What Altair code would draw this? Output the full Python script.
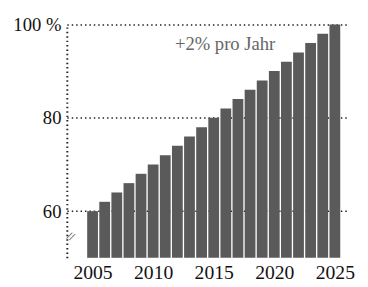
import altair as alt
import pandas as pd

years = [2005, 2006, 2007, 2008, 2009, 2010, 2011, 2012, 2013, 2014, 2015,
         2016, 2017, 2018, 2019, 2020, 2021, 2022, 2023, 2024, 2025]
values = [60, 62, 64, 66, 68, 70, 72, 74, 76, 78, 80,
          82, 84, 86, 88, 90, 92, 94, 96, 98, 100]
x_ticks = [2005, 2010, 2015, 2020, 2025]
y_ticks = [60, 80, 100]
annotation = "+2% pro Jahr"

df = pd.DataFrame({"year": years, "value": values})
FONT = "Liberation Serif"

x_scale = alt.Scale(domain=[2003.28, 2025.7], nice=False, zero=False)
y_scale = alt.Scale(domain=[50, 100], nice=False, zero=False)

bars = alt.Chart(df).mark_bar(size=11, color="#5a5a5a").encode(
    x=alt.X("year:Q", scale=x_scale,
            axis=alt.Axis(values=x_ticks, format="d", title=None, domain=False,
                          ticks=False, grid=False, labelFont=FONT, labelFontSize=20,
                          labelColor="#111", labelPadding=5, labelOverlap=False,
                          labelBound=False, labelFlush=False)),
    y=alt.Y("value:Q", scale=y_scale,
            axis=alt.Axis(values=y_ticks, title=None, domain=True, domainDash=[1.5, 3],
                          domainWidth=2, domainColor="#222", ticks=False,
                          grid=True, gridDash=[1.5, 3], gridWidth=1.5, gridColor="#222",
                          labelFont=FONT, labelFontSize=19, labelColor="#111",
                          labelPadding=6,
                          labelExpr="datum.value == 100 ? '100 %' : datum.label")),
    y2=alt.datum(50),
)

note = alt.Chart(pd.DataFrame({"x": [2015.94], "y": [95.7], "t": [annotation]})).mark_text(
    font=FONT, fontSize=19, color="#666"
).encode(x=alt.X("x:Q", scale=x_scale), y=alt.Y("y:Q", scale=y_scale), text="t:N")

brk = alt.Chart(pd.DataFrame({"x": [2003.2], "y": [54.6], "t": ["//"]})).mark_text(
    font=FONT, fontSize=12, color="#222", angle=25
).encode(x=alt.X("x:Q", scale=x_scale), y=alt.Y("y:Q", scale=y_scale), text="t:N")

chart = alt.layer(bars, note, brk).properties(
    width=287, height=238,
    autosize=alt.AutoSizeParams(type="none"),
    padding={"left": 60, "top": 14, "right": 12, "bottom": 27},
).configure_view(stroke=None)

chart.save("out.html", embed_options={"renderer": "svg", "actions": False})
